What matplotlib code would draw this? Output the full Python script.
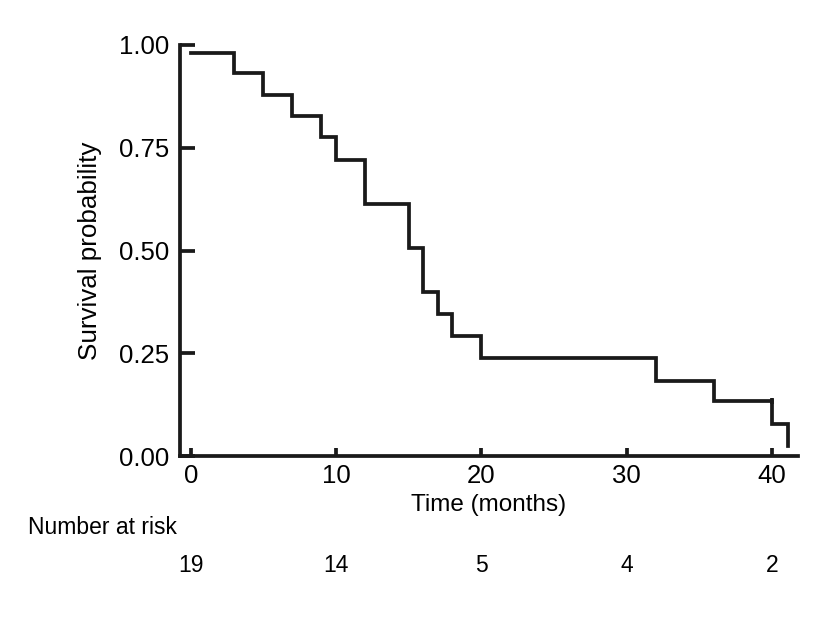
import matplotlib
matplotlib.use("Agg")
import matplotlib.pyplot as plt
import matplotlib.transforms as mtransforms

plt.rcParams['font.family'] = ['Liberation Sans', 'DejaVu Sans']

# Kaplan-Meier estimate
times = [0, 3, 5, 7, 9, 10, 12, 15, 16, 17, 18, 20, 32, 36, 40, 41.1]
surv = [0.980, 0.932, 0.879, 0.828, 0.775, 0.721, 0.613, 0.506, 0.400,
        0.346, 0.292, 0.238, 0.182, 0.134, 0.078, 0.024]
censor_t = [40]
censor_s = [0.134]

risk_times = [0, 10, 20, 30, 40]
risk_counts = [19, 14, 5, 4, 2]

ink = "#1a1a1a"
lw = 2.7

fig = plt.figure(figsize=(8.29, 6.28), dpi=100)
ax = fig.add_axes([180 / 829, 1 - 456 / 628, 618 / 829, 411 / 628])

ax.step(times, surv, where="post", color=ink, lw=lw, solid_joinstyle="miter")
ax.plot(censor_t, censor_s, marker="|", ms=4, mew=lw, color=ink, ls="none")

ax.set_xlim(-0.74, 41.8)
ax.set_ylim(0, 1.0)
ax.set_xticks([0, 10, 20, 30, 40])
ax.set_yticks([0, 0.25, 0.5, 0.75, 1.0])
ax.set_yticklabels(["0.00", "0.25", "0.50", "0.75", "1.00"])

for s in ["top", "right"]:
    ax.spines[s].set_visible(False)
for s in ["left", "bottom"]:
    ax.spines[s].set_linewidth(lw)
    ax.spines[s].set_color(ink)

ax.tick_params(axis="y", direction="in", length=11, width=lw, pad=8,
               labelsize=18.5, color=ink)
ax.tick_params(axis="x", direction="in", length=6, width=lw, pad=6,
               labelsize=18.5, color=ink)

ax.set_xlabel("Time (months)", fontsize=17.5, labelpad=4)
ax.set_ylabel("Survival probability", fontsize=18.7, labelpad=12)

fig.text(28 / 829, 1 - 527 / 628, "Number at risk", fontsize=16.5,
         ha="left", va="center")
trans = mtransforms.blended_transform_factory(ax.transData, fig.transFigure)
for t, n in zip(risk_times, risk_counts):
    ax.text(t, 1 - 566 / 628, str(n), transform=trans, fontsize=16.5,
            ha="center", va="center", clip_on=False)

fig.savefig("out.png", dpi=100)
